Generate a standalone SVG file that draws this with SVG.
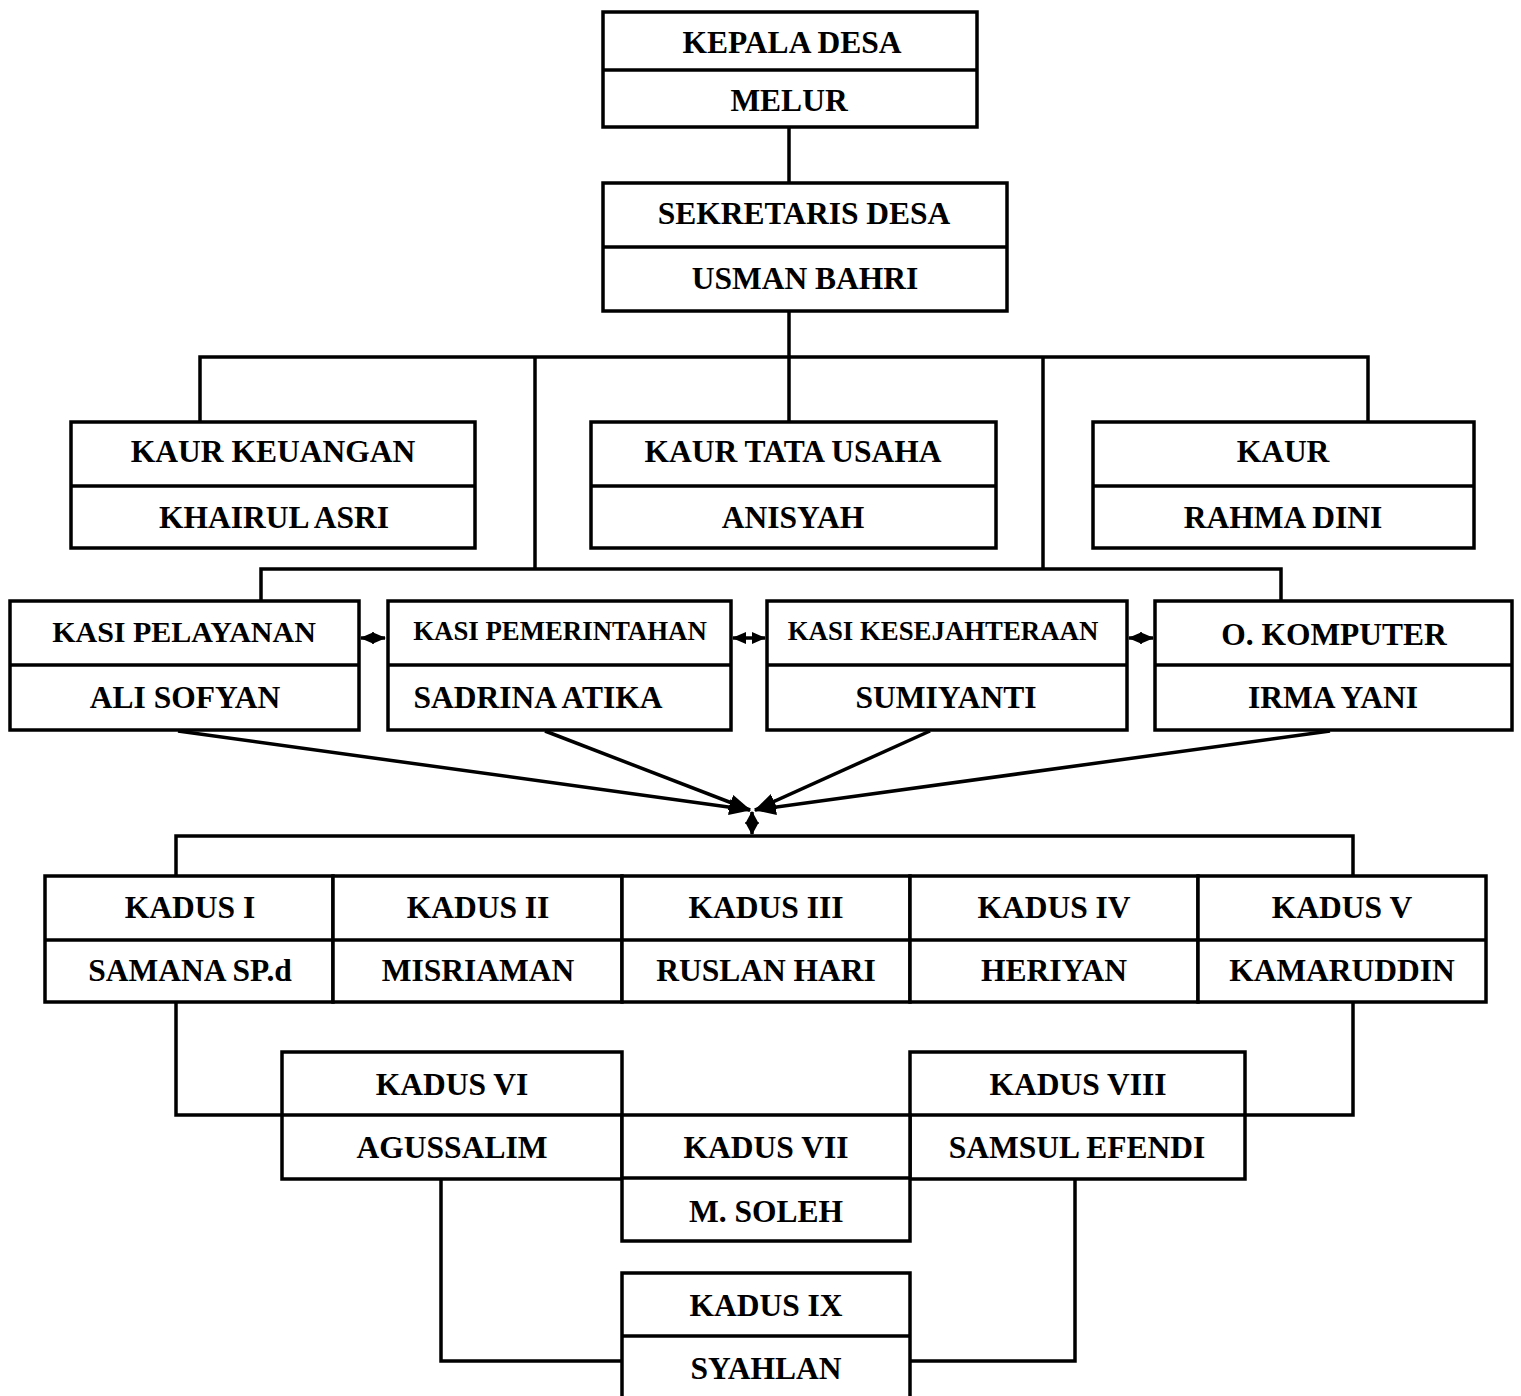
<svg xmlns="http://www.w3.org/2000/svg" width="1521" height="1396" viewBox="0 0 1521 1396">
<style>
.box{fill:#fff;stroke:#000;stroke-width:3.5}
.div{stroke:#000;stroke-width:3.5}
.ln{fill:none;stroke:#000;stroke-width:3.5}
.t{font-family:"Liberation Serif","Times New Roman",serif;font-weight:bold;font-size:31.5px;text-anchor:middle;fill:#000}
.s28{font-size:30px}
.s25{font-size:26.8px}
</style>
<defs>
<marker id="ah" viewBox="0 0 14 12" refX="13" refY="6" markerWidth="14" markerHeight="12" markerUnits="userSpaceOnUse" orient="auto-start-reverse">
<path d="M0,0 L14,6 L0,12 z" fill="#000"/>
</marker>
<marker id="ahs" viewBox="0 0 13 14" refX="12" refY="7" markerWidth="13" markerHeight="14" markerUnits="userSpaceOnUse" orient="auto-start-reverse">
<path d="M0,0 L13,7 L0,14 z" fill="#000"/>
</marker>
<marker id="ahb" viewBox="0 0 22 16" refX="21" refY="8" markerWidth="22" markerHeight="16" markerUnits="userSpaceOnUse" orient="auto">
<path d="M0,0 L22,8 L0,16 z" fill="#000"/>
</marker>
</defs>
<rect width="1521" height="1396" fill="#fff"/>
<g id="connectors">
<path class="ln" d="M789,127 V183"/>
<path class="ln" d="M789,311 V357"/>
<path class="ln" d="M200,422 V357 H1368 V422"/>
<path class="ln" d="M789,357 V422"/>
<path class="ln" d="M535,357 V569"/>
<path class="ln" d="M1043,357 V569"/>
<path class="ln" d="M261,601 V569 H1281 V601"/>
<line class="ln" x1="361" y1="638" x2="385" y2="638" marker-start="url(#ah)" marker-end="url(#ah)"/>
<line class="ln" x1="733" y1="638" x2="765" y2="638" marker-start="url(#ah)" marker-end="url(#ah)"/>
<line class="ln" x1="1129" y1="638" x2="1153" y2="638" marker-start="url(#ah)" marker-end="url(#ah)"/>
<line class="ln" x1="178" y1="731" x2="750" y2="810" marker-end="url(#ahb)"/>
<line class="ln" x1="545" y1="731" x2="750" y2="810" marker-end="url(#ahb)"/>
<line class="ln" x1="930" y1="731" x2="755" y2="810" marker-end="url(#ahb)"/>
<line class="ln" x1="1330" y1="731" x2="755" y2="810" marker-end="url(#ahb)"/>
<line class="ln" x1="752" y1="812" x2="752" y2="834" marker-start="url(#ahs)" marker-end="url(#ahs)"/>
<path class="ln" d="M176,876 V836 H1353 V876"/>
<path class="ln" d="M176,1002 V1115 H282"/>
<path class="ln" d="M1353,1002 V1115 H1245"/>
<path class="ln" d="M441,1180 V1361 H622"/>
<path class="ln" d="M1075,1180 V1361 H910"/>
</g>
<g id="kepala-desa">
<rect class="box" x="603" y="12" width="374" height="115"/>
<line class="div" x1="603" y1="70" x2="977" y2="70"/>
<text class="t" x="792" y="53">KEPALA DESA</text>
<text class="t" x="789" y="111">MELUR</text>
</g>
<g id="sekretaris-desa">
<rect class="box" x="603" y="183" width="404" height="128"/>
<line class="div" x1="603" y1="247" x2="1007" y2="247"/>
<text class="t" x="804" y="224">SEKRETARIS DESA</text>
<text class="t" x="805" y="289">USMAN BAHRI</text>
</g>
<g id="kaur-keuangan">
<rect class="box" x="71" y="422" width="404" height="126"/>
<line class="div" x1="71" y1="486" x2="475" y2="486"/>
<text class="t" x="273" y="462">KAUR KEUANGAN</text>
<text class="t" x="274" y="528">KHAIRUL ASRI</text>
</g>
<g id="kaur-tata-usaha">
<rect class="box" x="591" y="422" width="405" height="126"/>
<line class="div" x1="591" y1="486" x2="996" y2="486"/>
<text class="t" x="793" y="462">KAUR TATA USAHA</text>
<text class="t" x="793" y="528">ANISYAH</text>
</g>
<g id="kaur">
<rect class="box" x="1093" y="422" width="381" height="126"/>
<line class="div" x1="1093" y1="486" x2="1474" y2="486"/>
<text class="t" x="1283" y="462">KAUR</text>
<text class="t" x="1283" y="528">RAHMA DINI</text>
</g>
<g id="kasi-pelayanan">
<rect class="box" x="10" y="601" width="349" height="129"/>
<line class="div" x1="10" y1="665" x2="359" y2="665"/>
<text class="t s28" x="184" y="642">KASI PELAYANAN</text>
<text class="t" x="185" y="708">ALI SOFYAN</text>
</g>
<g id="kasi-pemerintahan">
<rect class="box" x="388" y="601" width="343" height="129"/>
<line class="div" x1="388" y1="665" x2="731" y2="665"/>
<text class="t s25" x="560" y="640">KASI PEMERINTAHAN</text>
<text class="t" x="538" y="708">SADRINA ATIKA</text>
</g>
<g id="kasi-kesejahteraan">
<rect class="box" x="767" y="601" width="360" height="129"/>
<line class="div" x1="767" y1="665" x2="1127" y2="665"/>
<text class="t s25" x="943" y="640">KASI KESEJAHTERAAN</text>
<text class="t" x="946" y="708">SUMIYANTI</text>
</g>
<g id="o-komputer">
<rect class="box" x="1155" y="601" width="357" height="129"/>
<line class="div" x1="1155" y1="665" x2="1512" y2="665"/>
<text class="t" x="1334" y="645">O. KOMPUTER</text>
<text class="t" x="1333" y="708">IRMA YANI</text>
</g>
<g id="kadus-1">
<rect class="box" x="45" y="876" width="288" height="126"/>
<line class="div" x1="45" y1="940" x2="333" y2="940"/>
<text class="t" x="190" y="918">KADUS I</text>
<text class="t" x="190" y="981">SAMANA SP.d</text>
</g>
<g id="kadus-2">
<rect class="box" x="333" y="876" width="289" height="126"/>
<line class="div" x1="333" y1="940" x2="622" y2="940"/>
<text class="t" x="478" y="918">KADUS II</text>
<text class="t" x="478" y="981">MISRIAMAN</text>
</g>
<g id="kadus-3">
<rect class="box" x="622" y="876" width="288" height="126"/>
<line class="div" x1="622" y1="940" x2="910" y2="940"/>
<text class="t" x="766" y="918">KADUS III</text>
<text class="t" x="766" y="981">RUSLAN HARI</text>
</g>
<g id="kadus-4">
<rect class="box" x="910" y="876" width="288" height="126"/>
<line class="div" x1="910" y1="940" x2="1198" y2="940"/>
<text class="t" x="1054" y="918">KADUS IV</text>
<text class="t" x="1054" y="981">HERIYAN</text>
</g>
<g id="kadus-5">
<rect class="box" x="1198" y="876" width="288" height="126"/>
<line class="div" x1="1198" y1="940" x2="1486" y2="940"/>
<text class="t" x="1342" y="918">KADUS V</text>
<text class="t" x="1342" y="981">KAMARUDDIN</text>
</g>
<g id="kadus-6">
<rect class="box" x="282" y="1052" width="340" height="127"/>
<line class="div" x1="282" y1="1115" x2="622" y2="1115"/>
<text class="t" x="452" y="1095">KADUS VI</text>
<text class="t" x="452" y="1158">AGUSSALIM</text>
</g>
<g id="kadus-8">
<rect class="box" x="910" y="1052" width="335" height="127"/>
<line class="div" x1="910" y1="1115" x2="1245" y2="1115"/>
<text class="t" x="1078" y="1095">KADUS VIII</text>
<text class="t" x="1077" y="1158">SAMSUL EFENDI</text>
</g>
<g id="kadus-7">
<rect class="box" x="622" y="1115" width="288" height="126"/>
<line class="div" x1="622" y1="1178" x2="910" y2="1178"/>
<text class="t" x="766" y="1158">KADUS VII</text>
<text class="t" x="766" y="1222">M. SOLEH</text>
</g>
<g id="kadus-9">
<rect class="box" x="622" y="1273" width="288" height="135"/>
<line class="div" x1="622" y1="1336" x2="910" y2="1336"/>
<text class="t" x="766" y="1316">KADUS IX</text>
<text class="t" x="766" y="1379">SYAHLAN</text>
</g>
</svg>
